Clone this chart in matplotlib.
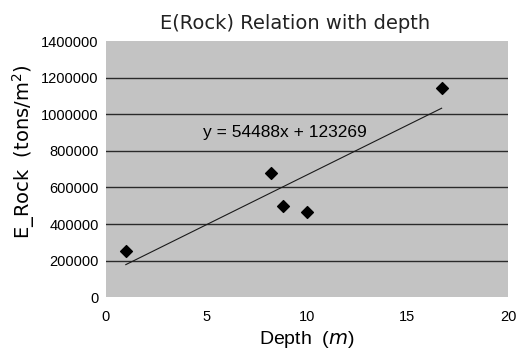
import matplotlib
matplotlib.use("Agg")
import matplotlib.pyplot as plt
import numpy as np

# Measured modulus of rock mass against depth
depth = [1.0, 8.2, 8.8, 10.0, 16.7]
e_rock = [252000, 677000, 497000, 463000, 1143000]

# Linear trendline coefficients
slope = 54488
intercept = 123269

x_ticks = [0, 5, 10, 15, 20]
y_ticks = [0, 200000, 400000, 600000, 800000, 1000000, 1200000, 1400000]

plt.rcParams['font.family'] = ['Liberation Sans', 'DejaVu Sans']

fig = plt.figure(figsize=(5.17, 3.58), dpi=100)
ax = fig.add_axes([0.2044, 0.170, 0.7782, 0.715])
ax.set_facecolor('#c3c3c3')

ax.set_xlim(0, 20)
ax.set_ylim(0, 1400000)
ax.set_xticks(x_ticks)
ax.set_yticks(y_ticks)
ax.set_yticklabels([str(v) for v in y_ticks])
ax.tick_params(axis='both', length=0, labelsize=10.5)
ax.tick_params(axis='y', pad=5)
ax.tick_params(axis='x', pad=9)

for y in y_ticks[1:-1]:
    ax.axhline(y, color='#2a2a2a', linewidth=1.0, zorder=1)

for s in ax.spines.values():
    s.set_visible(False)

xs = np.array([min(depth), max(depth)])
ax.plot(xs, slope * xs + intercept, color='#1a1a1a', linewidth=0.8, zorder=2)

ax.scatter(depth, e_rock, marker='D', s=36, color='black', zorder=3)

ax.text(8.9, 900000, f"y = {slope}x + {intercept}", ha='center', va='center',
        fontsize=12.5, color='black', zorder=4)

ax.set_title("E(Rock) Relation with depth", fontsize=14, pad=9, x=0.47,
             family=['DejaVu Sans'], color='#222222')
ax.set_xlabel(r"Depth  ($m$)", fontsize=14, labelpad=4)
ax.set_ylabel(r"E_Rock  (tons/m$^2$)", fontsize=14,
              family=['DejaVu Sans'])
ax.yaxis.set_label_coords(-0.17, 0.57)

fig.savefig("out.png", dpi=100)
